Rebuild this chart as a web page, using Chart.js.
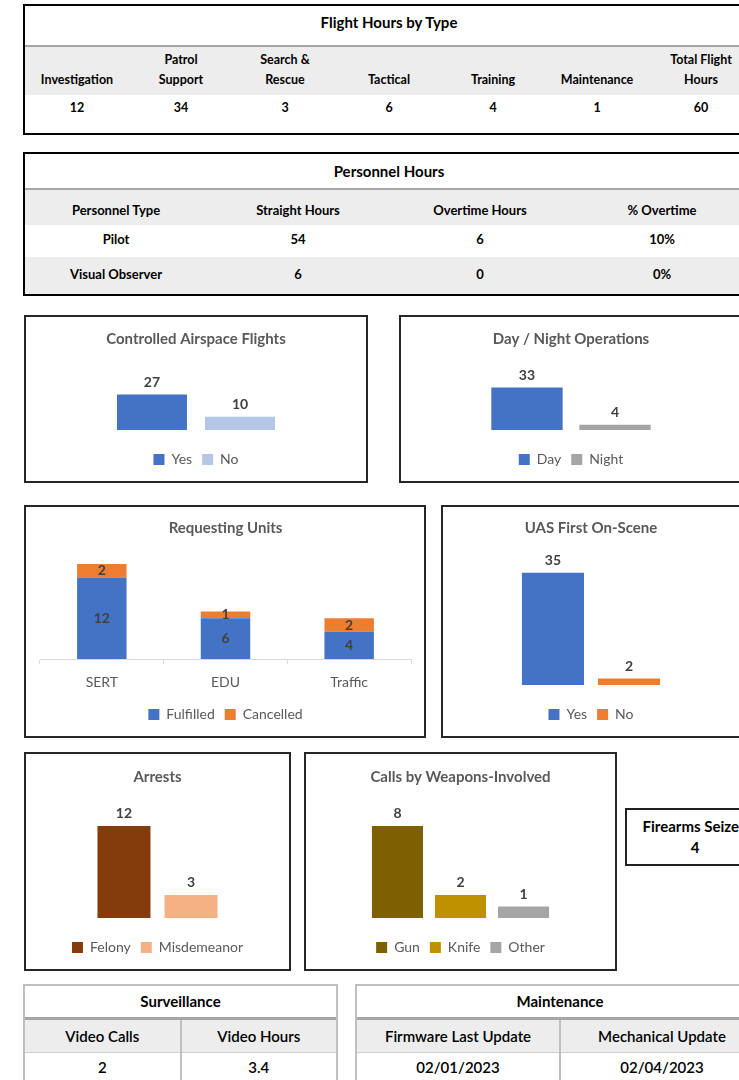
<!DOCTYPE html>
<html>
<head>
<meta charset="utf-8">
<script src="https://cdn.jsdelivr.net/npm/chart.js@4.4.1/dist/chart.umd.min.js"></script>
<style>
    body { margin: 0; width: 739px; height: 1080px; overflow: hidden; background: #fff; font-family: Lato, "Noto Sans", sans-serif; color: #000; }
    .panel { position: absolute; box-sizing: border-box; background: #fff; }
    .ptitle { box-sizing: border-box; text-align: center; font-weight: bold; font-size: 15px; }
    table { width: 100%; border-collapse: collapse; table-layout: fixed; }
    td { padding: 0; text-align: center; }
    .box { position: absolute; box-sizing: border-box; border: 2px solid #262626; background: #fff; }
    .inner { position: relative; width: 100%; height: 100%; }
</style>
</head>
<body>

<!-- Flight Hours by Type -->
<div class="panel" style="left:23px;top:4px;width:732px;height:131px;border:2px solid #000;">
    <div class="ptitle" style="height:41px;line-height:33px;border-bottom:2px solid #A6A6A6;">Flight Hours by Type</div>
    <table style="font-size:12.5px;font-weight:bold;">
        <tr id="flightHead" style="height:48px;background:#EDEDED;"></tr>
        <tr id="flightVals" style="height:36px;"></tr>
    </table>
</div>

<!-- Personnel Hours -->
<div class="panel" style="left:23px;top:152px;width:732px;height:144px;border:2px solid #000;">
    <div class="ptitle" style="height:36px;line-height:34px;border-bottom:2px solid #A6A6A6;">Personnel Hours</div>
    <table style="font-size:13px;font-weight:bold;" id="personnelTable"></table>
</div>

<!-- charts -->
<div class="box" style="left:24px;top:315px;width:344px;height:168px;"><div class="inner"><canvas id="airspaceChart"></canvas></div></div>
<div class="box" style="left:399px;top:315px;width:344px;height:168px;"><div class="inner"><canvas id="dayNightChart"></canvas></div></div>
<div class="box" style="left:24px;top:505px;width:402px;height:233px;"><div class="inner"><canvas id="unitsChart"></canvas></div></div>
<div class="box" style="left:441px;top:505px;width:300px;height:233px;"><div class="inner"><canvas id="firstOnSceneChart"></canvas></div></div>
<div class="box" style="left:24px;top:752px;width:267px;height:219px;"><div class="inner"><canvas id="arrestsChart"></canvas></div></div>
<div class="box" style="left:304px;top:752px;width:313px;height:219px;"><div class="inner"><canvas id="weaponsChart"></canvas></div></div>

<!-- Firearms Seized -->
<div class="panel" style="left:625px;top:808px;width:140px;height:58px;border:2px solid #222;text-align:center;font-weight:bold;font-size:15px;">
    <div style="margin-top:6px;line-height:20px;">Firearms Seized</div>
    <div id="firearmsVal" style="line-height:22px;"></div>
</div>

<!-- Surveillance -->
<div class="panel" style="left:23px;top:984px;width:315px;height:110px;border:2px solid #BFBFBF;">
    <div class="ptitle" style="height:34px;line-height:31px;border-bottom:3px solid #A6A6A6;">Surveillance</div>
    <table style="font-size:15px;font-weight:600;" id="survTable"></table>
</div>

<!-- Maintenance -->
<div class="panel" style="left:355px;top:984px;width:410px;height:110px;border:2px solid #BFBFBF;">
    <div class="ptitle" style="height:34px;line-height:31px;border-bottom:3px solid #A6A6A6;">Maintenance</div>
    <table style="font-size:15px;font-weight:600;" id="maintTable"></table>
</div>

<script>
// Data
const flightTypes = ['Investigation', 'Patrol\nSupport', 'Search &\nRescue', 'Tactical', 'Training', 'Maintenance', 'Total Flight\nHours'];
const flightHours = [12, 34, 3, 6, 4, 1, 60];

const personnelCols = ['Personnel Type', 'Straight Hours', 'Overtime Hours', '% Overtime'];
const personnelTypes = ['Pilot', 'Visual Observer'];
const straightHours = [54, 6];
const overtimeHours = [6, 0];
const overtimePct = ['10%', '0%'];

const airspaceLabels = ['Yes', 'No'];
const airspaceValues = [27, 10];

const dayNightLabels = ['Day', 'Night'];
const dayNightValues = [33, 4];

const unitLabels = ['SERT', 'EDU', 'Traffic'];
const fulfilledValues = [12, 6, 4];
const cancelledValues = [2, 1, 2];

const firstOnSceneLabels = ['Yes', 'No'];
const firstOnSceneValues = [35, 2];

const arrestLabels = ['Felony', 'Misdemeanor'];
const arrestValues = [12, 3];

const weaponLabels = ['Gun', 'Knife', 'Other'];
const weaponValues = [8, 2, 1];

const firearmsSeized = 4;
const videoCalls = 2;
const videoHours = 3.4;
const firmwareLastUpdate = '02/01/2023';
const mechanicalUpdate = '02/04/2023';

// Tables
document.getElementById('flightHead').innerHTML = flightTypes.map(t =>
    '<td style="vertical-align:bottom;padding-bottom:5px;line-height:20px;white-space:pre-line;">' + t + '</td>').join('');
document.getElementById('flightVals').innerHTML = flightHours.map(v =>
    '<td style="vertical-align:top;padding-top:4px;line-height:18px;">' + v + '</td>').join('');

let rows = '<tr style="height:35px;background:#EDEDED;">' +
    personnelCols.map(c => '<td style="padding-top:4px;">' + c + '</td>').join('') + '</tr>';
personnelTypes.forEach((p, i) => {
    const bg = i % 2 ? 'background:#EDEDED;' : '';
    const h = i % 2 ? 37 : 32;
    rows += '<tr style="height:' + h + 'px;' + bg + '">' +
        [p, straightHours[i], overtimeHours[i], overtimePct[i]].map(v => '<td style="padding-bottom:4px;">' + v + '</td>').join('') + '</tr>';
});
document.getElementById('personnelTable').innerHTML = rows;

document.getElementById('firearmsVal').textContent = firearmsSeized;

function twoColTable(id, heads, vals) {
    const cell = 'border-left:2px solid #BFBFBF;';
    document.getElementById(id).innerHTML =
        '<tr style="height:32px;background:#EDEDED;border-bottom:1px solid #CFCFCF;">' +
        heads.map((h, i) => '<td style="' + (i ? cell : '') + '">' + h + '</td>').join('') + '</tr>' +
        '<tr style="height:32px;">' +
        vals.map((v, i) => '<td style="' + (i ? cell : '') + 'vertical-align:top;padding-top:5px;">' + v + '</td>').join('') + '</tr>';
}
twoColTable('survTable', ['Video Calls', 'Video Hours'], [videoCalls, videoHours]);
twoColTable('maintTable', ['Firmware Last Update', 'Mechanical Update'], [firmwareLastUpdate, mechanicalUpdate]);

// Charts
Chart.defaults.font.family = 'Lato, "Noto Sans", sans-serif';
Chart.defaults.animation = false;

// draws the value on (or above) every bar
const valueLabels = {
    id: 'valueLabels',
    afterDatasetsDraw(chart, args, opts) {
        const ctx = chart.ctx;
        ctx.save();
        ctx.font = 'bold 14px Lato, "Noto Sans", sans-serif';
        ctx.fillStyle = '#404040';
        ctx.textAlign = 'center';
        chart.data.datasets.forEach((ds, i) => {
            chart.getDatasetMeta(i).data.forEach((bar, j) => {
                if (opts.inside) {
                    ctx.textBaseline = 'middle';
                    ctx.fillText(ds.data[j], bar.x, (bar.y + bar.base) / 2);
                } else {
                    ctx.textBaseline = 'bottom';
                    ctx.fillText(ds.data[j], bar.x, bar.y - 5);
                }
            });
        });
        ctx.restore();
    }
};

function makeBarChart(id, labels, datasets, o) {
    const xScale = o.stacked ? {
        stacked: true,
        ticks: { color: '#595959', font: { size: 14 }, padding: 10 },
        grid: { drawOnChartArea: false, tickLength: 5, color: '#D9D9D9' },
        border: { color: '#D9D9D9' },
        afterFit: s => { s.height = o.gap; }
    } : {
        ticks: { display: false },
        grid: { display: false },
        border: { display: false },
        afterFit: s => { s.height = o.gap; }
    };
    datasets.forEach(d => {
        d.borderWidth = 0;
        d.categoryPercentage = o.catPct;
        d.barPercentage = o.barPct;
    });
    return new Chart(document.getElementById(id), {
        type: 'bar',
        data: { labels: labels, datasets: datasets },
        options: {
            responsive: true,
            maintainAspectRatio: false,
            layout: { padding: { left: o.padL || 0, right: o.padR || 0, bottom: 4.5 } },
            plugins: {
                title: {
                    display: true, text: o.title, color: '#595959',
                    font: { size: 15, weight: 'bold' },
                    padding: { top: o.titleTop, bottom: 10 }
                },
                legend: {
                    position: 'bottom',
                    labels: { boxWidth: 11, boxHeight: 11, color: '#595959', font: { size: 14 }, padding: 10 }
                },
                tooltip: { enabled: false },
                valueLabels: { inside: !!o.stacked }
            },
            scales: {
                x: xScale,
                y: { display: false, stacked: !!o.stacked, min: 0, max: o.yMax }
            }
        },
        plugins: [valueLabels]
    });
}

// one bar per series, sitting on a single category
function seriesFrom(labels, values, colors) {
    return labels.map((l, i) => ({ label: l, data: [values[i]], backgroundColor: colors[i] }));
}

makeBarChart('airspaceChart', [''], seriesFrom(airspaceLabels, airspaceValues, ['#4472C4', '#B4C7E7']),
    { title: 'Controlled Airspace Flights', titleTop: 13, gap: 12.5, yMax: 54.75, catPct: 0.518, barPct: 0.795 });

makeBarChart('dayNightChart', [''], seriesFrom(dayNightLabels, dayNightValues, ['#4472C4', '#A5A5A5']),
    { title: 'Day / Night Operations', titleTop: 13, gap: 12.5, yMax: 56, catPct: 0.518, barPct: 0.81 });

makeBarChart('unitsChart', unitLabels, [
    { label: 'Fulfilled', data: fulfilledValues, backgroundColor: '#4472C4' },
    { label: 'Cancelled', data: cancelledValues, backgroundColor: '#ED7D31' }
], { title: 'Requesting Units', titleTop: 12, gap: 38.5, yMax: 16.5, catPct: 1, barPct: 0.4, stacked: true, padL: 14, padR: 13 });

makeBarChart('firstOnSceneChart', [''], seriesFrom(firstOnSceneLabels, firstOnSceneValues, ['#4472C4', '#ED7D31']),
    { title: 'UAS First On-Scene', titleTop: 12, gap: 12.5, yMax: 43, catPct: 0.514, barPct: 0.816 });

makeBarChart('arrestsChart', [''], seriesFrom(arrestLabels, arrestValues, ['#843C0C', '#F4B183']),
    { title: 'Arrests', titleTop: 14, gap: 12.5, yMax: 15.9, catPct: 0.51, barPct: 0.79 });

makeBarChart('weaponsChart', [''], seriesFrom(weaponLabels, weaponValues, ['#7F6000', '#BF9000', '#A5A5A5']),
    { title: 'Calls by Weapons-Involved', titleTop: 14, gap: 12.5, yMax: 10.6, catPct: 0.612, barPct: 0.81 });
</script>
</body>
</html>
